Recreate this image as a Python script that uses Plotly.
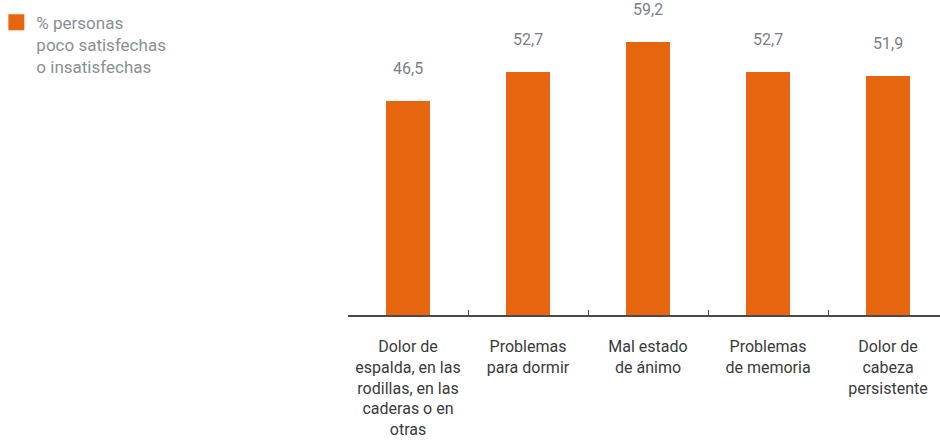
import plotly.graph_objects as go

categories = [
    "Dolor de<br>espalda, en las<br>rodillas, en las<br>caderas o en<br>otras",
    "Problemas<br>para dormir",
    "Mal estado<br>de ánimo",
    "Problemas<br>de memoria",
    "Dolor de<br>cabeza<br>persistente",
]
values = [46.5, 52.7, 59.2, 52.7, 51.9]
series_name = "% personas<br>poco satisfechas<br>o insatisfechas"

ORANGE = "#E8650F"
FONT = "Roboto"
x_pos = list(range(len(categories)))

fig = go.Figure()
fig.add_trace(go.Bar(
    x=x_pos, y=values, width=0.367,
    marker=dict(color=ORANGE, line=dict(width=0)),
    showlegend=False, hoverinfo="skip",
))
fig.add_trace(go.Scatter(
    x=[None], y=[None], mode="markers", name=series_name,
    marker=dict(symbol="square", size=16, color=ORANGE),
    showlegend=True,
))

for xi, v in zip(x_pos, values):
    fig.add_annotation(
        x=xi, y=v, text=f"{v:.1f}".replace(".", ","),
        showarrow=False, yanchor="bottom", yshift=21,
        font=dict(family=FONT, size=16, color="#7b8087"),
    )

fig.update_layout(
    width=940, height=440,
    margin=dict(l=348, r=0, t=0, b=125, autoexpand=False),
    paper_bgcolor="white", plot_bgcolor="white",
    font=dict(family=FONT, size=16, color="#3a3a3a"),
    bargap=0,
    legend=dict(
        x=-0.594, y=0.985, xanchor="left", yanchor="top", valign="top",
        font=dict(family=FONT, size=17, color="#8a8f94"),
        bgcolor="rgba(0,0,0,0)", itemwidth=30,
    ),
    xaxis=dict(
        range=[-0.5, 4.4333], showgrid=False, zeroline=False,
        tickmode="array", tickvals=x_pos, ticktext=categories,
        ticks="", showline=True, linecolor="#4a4a4a", linewidth=1.5,
        tickfont=dict(family=FONT, size=16, color="#3a3a3a"),
        ticklabelstandoff=16, automargin=False,
        minor=dict(tickmode="array", tickvals=[0.5, 1.5, 2.5, 3.5],
                   ticks="inside", ticklen=5, tickcolor="#4a4a4a", tickwidth=1),
        fixedrange=True,
    ),
    yaxis=dict(
        range=[0, 68.4], visible=False, showgrid=False, zeroline=False,
        fixedrange=True, automargin=False,
    ),
)

fig.write_html(
    "out.html",
    config={"displayModeBar": False},
    post_script="document.body.style.margin='0';document.body.style.padding='0';",
)
